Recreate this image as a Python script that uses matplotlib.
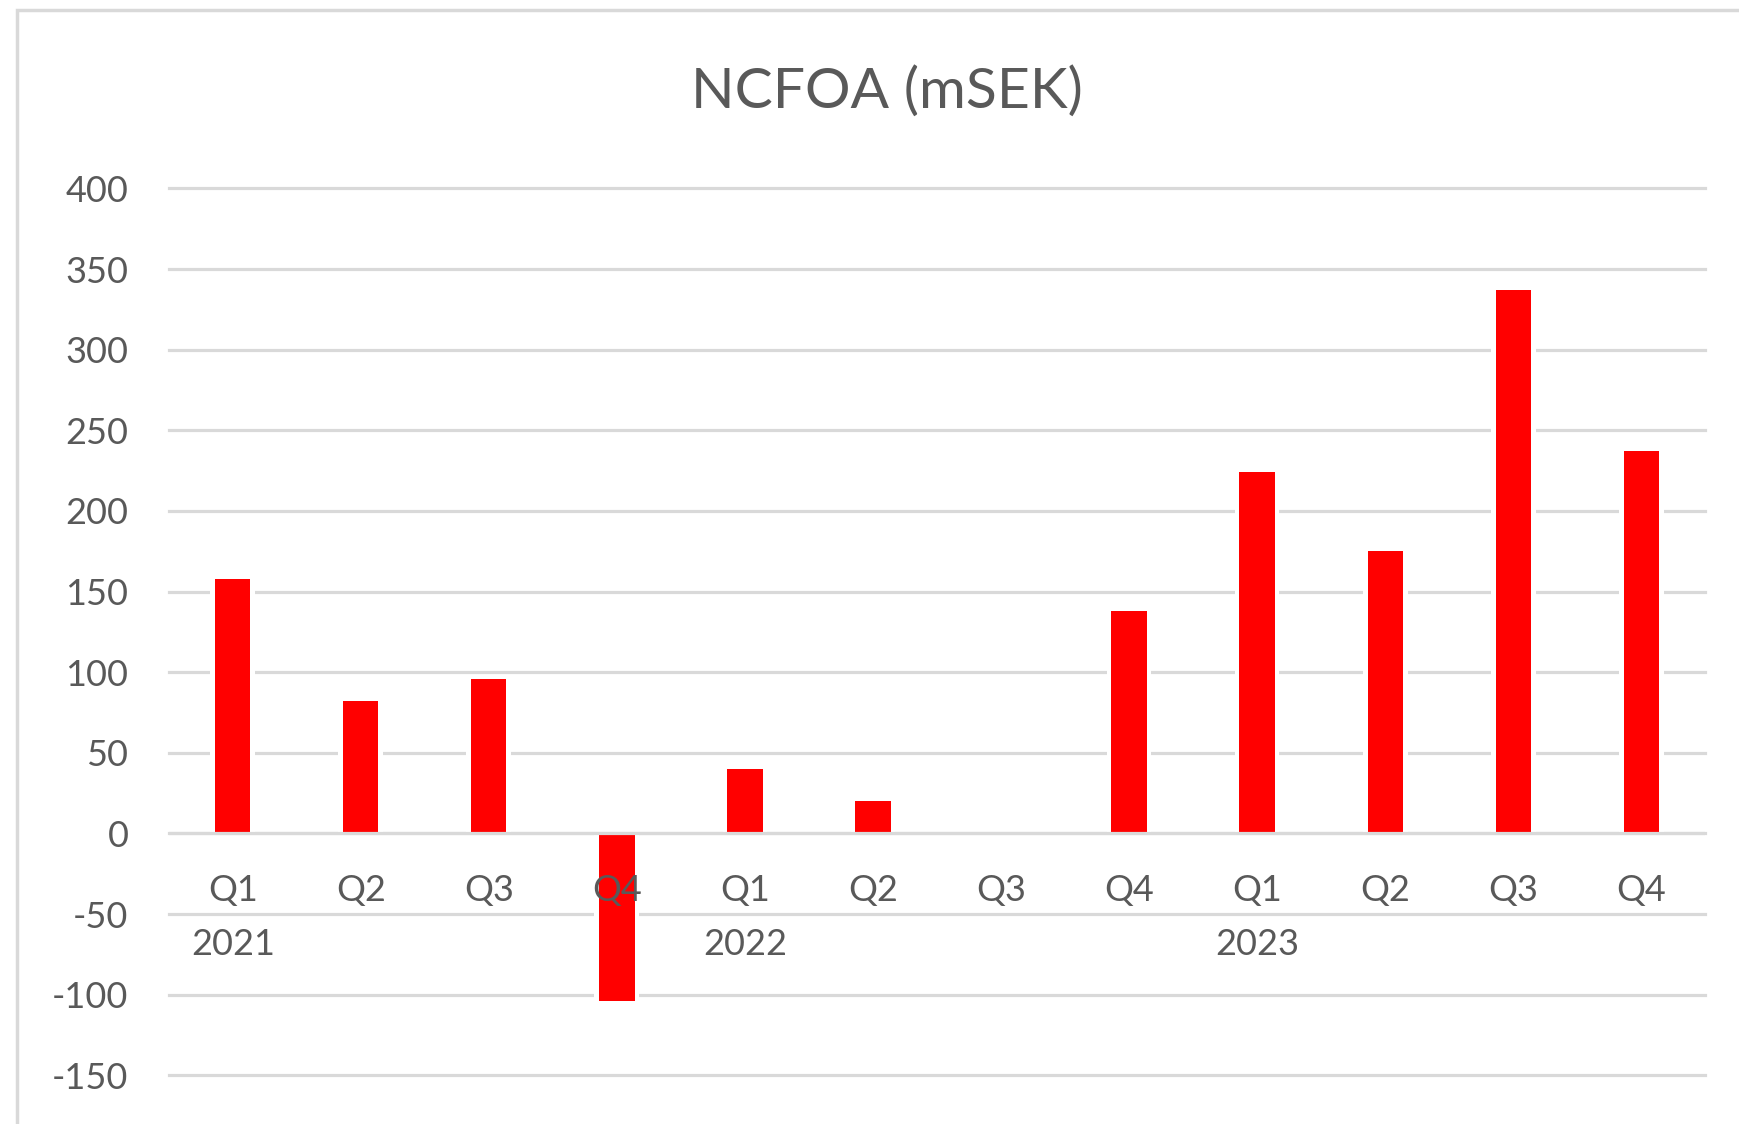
import matplotlib.pyplot as plt
from matplotlib.patches import Rectangle

plt.rcParams['font.family'] = ['Lato', 'DejaVu Sans']

# Data
quarters = ["Q1", "Q2", "Q3", "Q4", "Q1", "Q2", "Q3", "Q4", "Q1", "Q2", "Q3", "Q4"]
years = ["2021", "", "", "", "2022", "", "", "", "2023", "", "", ""]
ncfoa = [158, 82, 96, -104, 40, 20, 0, 138, 224, 175, 337, 237]
y_ticks = [-150, -100, -50, 0, 50, 100, 150, 200, 250, 300, 350, 400]

text_color = "#595959"
grid_color = "#d9d9d9"

fig = plt.figure(figsize=(17.4, 11.24), dpi=100)
ax = fig.add_axes([0.097, 0.0433, 0.883, 0.789])

x = list(range(len(ncfoa)))

# white halo behind bars cuts the gridlines, like Excel does
ax.bar(x, ncfoa, width=0.35, color="white", linewidth=0, zorder=2)
ax.bar(x, ncfoa, width=0.275, color="#ff0000", linewidth=0, zorder=3)

ax.set_xlim(-0.5, len(ncfoa) - 0.5)
ax.set_ylim(-150, 400)
ax.set_yticks(y_ticks)
ax.set_yticklabels([str(v) for v in y_ticks])
ax.tick_params(axis="y", length=0, pad=29, labelsize=26, labelcolor=text_color)
ax.set_xticks([])
for yv in y_ticks:
    ax.axhline(yv, color=grid_color, linewidth=2.3, zorder=1, clip_on=False)
ax.axhline(0, color=grid_color, linewidth=2.3, zorder=4)

for s in ax.spines.values():
    s.set_visible(False)

# category labels sit next to the zero line
for i in x:
    ax.annotate(quarters[i], (i, 0), xytext=(0, -41), textcoords="offset points",
                ha="center", va="center", fontsize=26, color=text_color, zorder=5)
    if years[i]:
        ax.annotate(years[i], (i, 0), xytext=(0, -80), textcoords="offset points",
                    ha="center", va="center", fontsize=26, color=text_color, zorder=5)

fig.text(0.51, 1 - 92 / 1124, "NCFOA (mSEK)", ha="center", va="center",
         fontsize=41, color=text_color)

# chart area border (only top and left are visible)
fig.patches.append(Rectangle((17 / 1740, -0.1), 1.2, 1 - 10 / 1124 + 0.1,
                             transform=fig.transFigure, fill=False,
                             edgecolor=grid_color, linewidth=2.5))

fig.savefig("out.png", dpi=100)
